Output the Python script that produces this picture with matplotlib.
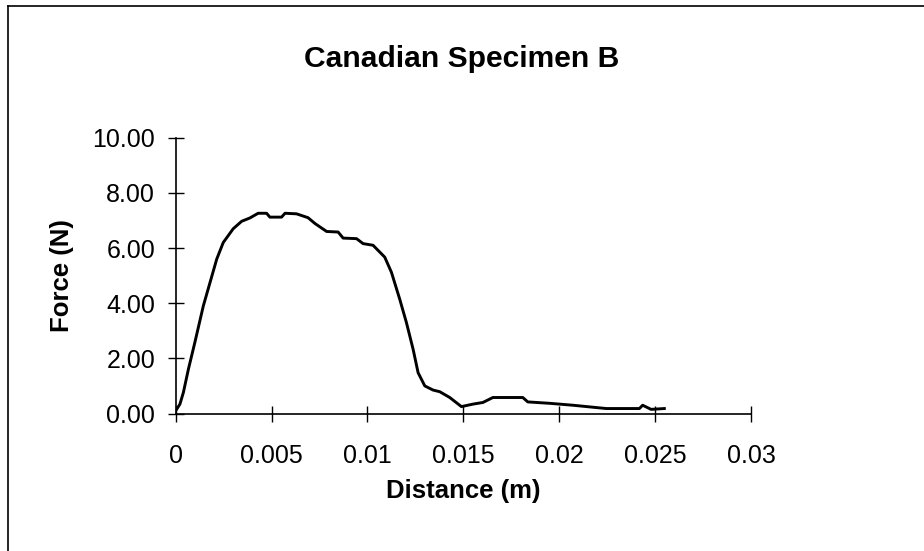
import matplotlib
matplotlib.use("Agg")
import matplotlib.pyplot as plt
from matplotlib.lines import Line2D

distance = [0, 0.00022, 0.0004, 0.00066, 0.001, 0.00144, 0.00179, 0.00214,
            0.00248, 0.003, 0.00344, 0.00387, 0.0043, 0.00474, 0.00491,
            0.00552, 0.0057, 0.0063, 0.0069, 0.00726, 0.00787, 0.00847,
            0.00873, 0.00943, 0.00977, 0.01029, 0.0109, 0.01125, 0.01168,
            0.01203, 0.01238, 0.01264, 0.01299, 0.01342, 0.01377, 0.01429,
            0.0149, 0.0155, 0.01602, 0.01654, 0.0181, 0.01836, 0.01949,
            0.02071, 0.02245, 0.02418, 0.02435, 0.02479, 0.02548]
force = [0.1, 0.34, 0.76, 1.6, 2.58, 3.9, 4.75, 5.6,
         6.2, 6.7, 6.97, 7.09, 7.26, 7.26, 7.12,
         7.12, 7.26, 7.24, 7.1, 6.89, 6.6, 6.58,
         6.36, 6.34, 6.16, 6.1, 5.67, 5.12, 4.15,
         3.3, 2.33, 1.48, 1.0, 0.85, 0.79, 0.58,
         0.25, 0.34, 0.4, 0.58, 0.58, 0.42, 0.37,
         0.3, 0.18, 0.18, 0.3, 0.15, 0.18]

x_ticks = [0, 0.005, 0.01, 0.015, 0.02, 0.025, 0.03]
x_tick_labels = ["0", "0.005", "0.01", "0.015", "0.02", "0.025", "0.03"]
y_ticks = [0, 2, 4, 6, 8, 10]
y_tick_labels = ["0.00", "2.00", "4.00", "6.00", "8.00", "10.00"]

plt.rcParams['font.family'] = ['Liberation Sans', 'DejaVu Sans']

W, H = 924, 551
fig = plt.figure(figsize=(W / 100, H / 100), dpi=100)
fig.patch.set_facecolor('white')

ax = fig.add_axes([175.7 / W, 1 - 413.5 / H, (751 - 175.7) / W, (413.5 - 137.7) / H])
ax.plot(distance, force, color='black', linewidth=2.1)

ax.set_xlim(0, 0.03)
ax.set_ylim(0, 10)
ax.set_xticks(x_ticks)
ax.set_xticklabels(x_tick_labels)
ax.set_yticks(y_ticks)
ax.set_yticklabels(y_tick_labels)

for side in ['top', 'right']:
    ax.spines[side].set_visible(False)
for side in ['left', 'bottom']:
    ax.spines[side].set_linewidth(1.2)
    ax.spines[side].set_color('black')

ax.tick_params(axis='both', direction='inout', length=11.5, width=1.0,
               labelsize=18, colors='black')
ax.tick_params(axis='y', pad=9)
ax.tick_params(axis='x', pad=16)

# title and axis labels
fig.text(462 / W, 1 - 66.7 / H, 'Canadian Specimen B', ha='center', va='baseline',
         fontsize=21.6, fontweight='bold')
fig.text(463 / W, 1 - 498 / H, 'Distance (m)', ha='center', va='baseline',
         fontsize=18.5, fontweight='bold')
fig.text(61.7 / W, 1 - 275.6 / H, 'Force (N)', ha='center', va='center',
         rotation=90, fontsize=18.5, fontweight='bold')

# frame edges left over from the page scan
fig.add_artist(Line2D([8 / W, 1], [1 - 6 / H, 1 - 6 / H], color='black', linewidth=1.2))
fig.add_artist(Line2D([8 / W, 8 / W], [0, 1 - 6 / H], color='black', linewidth=1.2))

fig.savefig('out.png', dpi=100)
